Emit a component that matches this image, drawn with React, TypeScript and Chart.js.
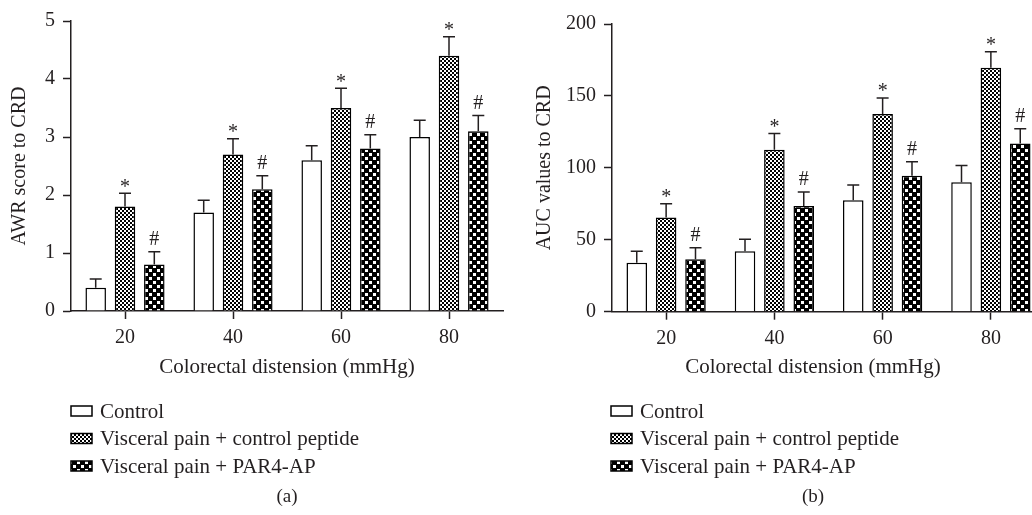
import React, { useEffect, useRef } from 'react';
import { Chart, registerables } from 'chart.js';

Chart.register(...registerables);

// ---------- data ----------
const categories = ['20', '40', '60', '80'];
const seriesLabels = ['Control', 'Visceral pain + control peptide', 'Visceral pain + PAR4-AP'];

// panel (a): AWR score
const awrControl = [0.4, 1.7, 2.6, 3.0];
const awrControlErr = [0.15, 0.21, 0.25, 0.29];
const awrPeptide = [1.8, 2.7, 3.5, 4.4];
const awrPeptideErr = [0.23, 0.27, 0.34, 0.33];
const awrPar4 = [0.8, 2.1, 2.8, 3.1];
const awrPar4Err = [0.22, 0.23, 0.24, 0.27];

// panel (b): AUC values
const aucControl = [34, 42, 77.5, 90];
const aucControlErr = [8, 8.4, 10.5, 11.6];
const aucPeptide = [65.5, 112.5, 137.5, 169.5];
const aucPeptideErr = [9.5, 11.4, 11, 11.2];
const aucPar4 = [36.5, 73.5, 94.5, 117];
const aucPar4Err = [8, 9.7, 9.8, 10.2];

// significance marks
const controlMarks = ['', '', '', ''];
const peptideMarks = ['*', '*', '*', '*'];
const par4Marks = ['#', '#', '#', '#'];

const awrTicks = { min: 0, max: 5, step: 1 };
const aucTicks = { min: 0, max: 200, step: 50 };

// ---------- styles ----------
const FONT = '"Liberation Serif", "Times New Roman", serif';
const INK = '#231f20';

function makePattern(kind: 'fine' | 'coarse') {
  const c = document.createElement('canvas');
  const g = c.getContext('2d') as CanvasRenderingContext2D;
  if (kind === 'fine') {
    c.width = 4;
    c.height = 4;
    g.fillStyle = '#ffffff';
    g.fillRect(0, 0, 4, 4);
    g.fillStyle = '#000000';
    g.fillRect(0, 0, 2, 2);
    g.fillRect(2, 2, 2, 2);
  } else {
    c.width = 8;
    c.height = 8;
    g.fillStyle = '#000000';
    g.fillRect(0, 0, 8, 8);
    g.fillStyle = '#ffffff';
    g.fillRect(1, 1, 3, 3);
    g.fillRect(5, 5, 3, 3);
  }
  return g.createPattern(c, 'repeat') as CanvasPattern;
}

const panelPlugin = {
  id: 'panel',
  afterDatasetsDraw(chart: any) {
    const ctx = chart.ctx as CanvasRenderingContext2D;
    const y = chart.scales.y;
    chart.data.datasets.forEach((ds: any, di: number) => {
      const meta = chart.getDatasetMeta(di);
      meta.data.forEach((bar: any, i: number) => {
        const v = ds.data[i];
        const e = ds.errors[i];
        const top = y.getPixelForValue(v + e);
        ctx.save();
        ctx.strokeStyle = INK;
        ctx.lineWidth = 1.5;
        ctx.beginPath();
        ctx.moveTo(bar.x, bar.y);
        ctx.lineTo(bar.x, top);
        ctx.moveTo(bar.x - 6, top);
        ctx.lineTo(bar.x + 6, top);
        ctx.stroke();
        const m = ds.marks[i];
        if (m) {
          ctx.font = `20px ${FONT}`;
          ctx.fillStyle = INK;
          ctx.textAlign = 'center';
          ctx.textBaseline = 'middle';
          ctx.fillText(m, bar.x, top - (m === '*' ? 6 : 12));
        }
        ctx.restore();
      });
    });
  },
  afterDraw(chart: any, _args: any, opts: any) {
    const ctx = chart.ctx as CanvasRenderingContext2D;
    const area = chart.chartArea;
    ctx.save();
    ctx.fillStyle = INK;
    // y title
    ctx.font = `20px ${FONT}`;
    ctx.textAlign = 'center';
    ctx.textBaseline = 'middle';
    ctx.save();
    ctx.translate(opts.yTitleX, (area.top + area.bottom) / 2);
    ctx.rotate(-Math.PI / 2);
    ctx.fillText(opts.yTitle, 0, 0);
    ctx.restore();
    // x title
    ctx.font = `21px ${FONT}`;
    ctx.fillText(opts.xTitle, opts.xTitleX, opts.xTitleY);
    // legend
    chart.data.datasets.forEach((ds: any, di: number) => {
      const ry = opts.legendY[di];
      ctx.fillStyle = ds.backgroundColor;
      ctx.fillRect(opts.legendX, ry - 5, 21, 10);
      ctx.strokeStyle = '#000';
      ctx.lineWidth = 1.5;
      ctx.strokeRect(opts.legendX, ry - 5, 21, 10);
      ctx.fillStyle = INK;
      ctx.textAlign = 'left';
      ctx.textBaseline = 'middle';
      ctx.font = `21px ${FONT}`;
      ctx.fillText(ds.label, opts.legendX + 29, ry + 1);
    });
    // caption
    ctx.textAlign = 'center';
    ctx.font = `19px ${FONT}`;
    ctx.fillText(opts.caption, opts.captionX, opts.captionY);
    ctx.restore();
  },
};

type PanelProps = {
  left: number;
  width: number;
  values: number[][];
  errors: number[][];
  ticks: { min: number; max: number; step: number };
  yAxisWidth: number;
  top: number;
  bottom: number;
  rightPad: number;
  yTitle: string;
  yTitleX: number;
  xTitleX: number;
  legendX: number;
  caption: string;
  captionX: number;
};

function Panel(p: PanelProps) {
  const ref = useRef<HTMLCanvasElement>(null);
  useEffect(() => {
    const canvas = ref.current as HTMLCanvasElement;
    const fills = ['#ffffff', makePattern('fine'), makePattern('coarse')];
    const marks = [controlMarks, peptideMarks, par4Marks];
    const tickFont = { family: FONT, size: 20 };
    const chart = new Chart(canvas, {
      type: 'bar',
      data: {
        labels: categories,
        datasets: seriesLabels.map((label, i) => ({
          label,
          data: p.values[i],
          errors: p.errors[i],
          marks: marks[i],
          backgroundColor: fills[i],
          borderColor: '#000000',
          borderWidth: 1.5,
          categoryPercentage: 0.814,
          barPercentage: 0.7,
        })) as any,
      },
      options: {
        animation: false,
        responsive: false,
        devicePixelRatio: 1,
        events: [],
        layout: { padding: { left: 0, top: p.top, right: p.rightPad, bottom: 0 } },
        plugins: {
          legend: { display: false },
          tooltip: { enabled: false },
          panel: {
            yTitle: p.yTitle,
            yTitleX: p.yTitleX,
            xTitle: 'Colorectal distension (mmHg)',
            xTitleX: p.xTitleX,
            xTitleY: 367,
            legendX: p.legendX,
            legendY: [411, 438.5, 466],
            caption: p.caption,
            captionX: p.captionX,
            captionY: 497,
          },
        } as any,
        scales: {
          x: {
            type: 'category',
            z: 1,
            grid: {
              display: true,
              drawOnChartArea: false,
              drawTicks: true,
              tickLength: 8,
              tickWidth: 1.5,
              tickColor: INK,
              offset: false,
            },
            border: { display: true, color: INK, width: 1.5 },
            ticks: { font: tickFont, color: INK, padding: 7, maxRotation: 0 },
            afterFit: (s: any) => {
              s.height = 515 - p.bottom;
            },
          },
          y: {
            min: p.ticks.min,
            max: p.ticks.max,
            z: 1,
            grid: {
              display: true,
              drawOnChartArea: false,
              drawTicks: true,
              tickLength: 8,
              tickWidth: 1.5,
              tickColor: INK,
            },
            border: { display: true, color: INK, width: 1.5 },
            ticks: { stepSize: p.ticks.step, font: tickFont, color: INK, padding: 8 },
            afterFit: (s: any) => {
              s.width = p.yAxisWidth;
            },
          },
        },
      },
      plugins: [panelPlugin as any],
    });
    return () => chart.destroy();
  }, []);
  return (
    <canvas
      ref={ref}
      width={p.width}
      height={515}
      style={{ position: 'absolute', left: p.left, top: 0, width: p.width, height: 515, display: 'block' }}
    />
  );
}

export default function App() {
  return (
    <div
      style={{
        position: 'absolute',
        left: 0,
        top: 0,
        width: 1032,
        height: 515,
        overflow: 'hidden',
        background: '#ffffff',
      }}
    >
      <Panel
        left={0}
        width={516}
        values={[awrControl, awrPeptide, awrPar4]}
        errors={[awrControlErr, awrPeptideErr, awrPar4Err]}
        ticks={awrTicks}
        yAxisWidth={71}
        top={21}
        bottom={311}
        rightPad={13}
        yTitle="AWR score to CRD"
        yTitleX={20}
        xTitleX={287}
        legendX={71}
        caption="(a)"
        captionX={287}
      />
      <Panel
        left={516}
        width={540}
        values={[aucControl, aucPeptide, aucPar4]}
        errors={[aucControlErr, aucPeptideErr, aucPar4Err]}
        ticks={aucTicks}
        yAxisWidth={96}
        top={24}
        bottom={311.7}
        rightPad={11}
        yTitle="AUC values to CRD"
        yTitleX={29}
        xTitleX={297}
        legendX={95}
        caption="(b)"
        captionX={297}
      />
    </div>
  );
}
